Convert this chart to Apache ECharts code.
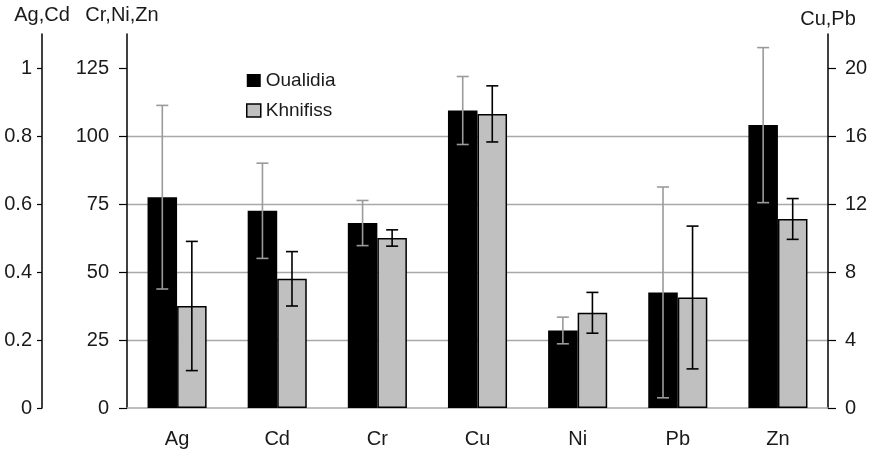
<!DOCTYPE html>
<html><head><meta charset="utf-8">
<script src="https://cdn.jsdelivr.net/npm/echarts@6/dist/echarts.min.js"></script>
<style>html,body{margin:0;padding:0;background:#fff}#c{width:874px;height:450px}</style>
</head><body><div id="c"></div>
<script>
// ---- data ----
const categories = ['Ag', 'Cd', 'Cr', 'Cu', 'Ni', 'Pb', 'Zn'];
// which y axis each category is read on: 0 = Ag,Cd ; 1 = Cr,Ni,Zn ; 2 = Cu,Pb
const axisGroup = [0, 0, 1, 2, 1, 2, 1];
const oualidiaMean = [0.62, 0.58, 68, 17.5, 28.5, 6.8, 104];
const oualidiaSD   = [0.27, 0.14, 8.3, 2.0, 4.9, 6.2, 28.5];
const khnifissMean = [0.30, 0.38, 62.5, 17.3, 35, 6.5, 69.5];
const khnifissSD   = [0.19, 0.08, 3, 1.65, 7.5, 4.2, 7.5];
const axisNames = ['Ag,Cd', 'Cr,Ni,Zn', 'Cu,Pb'];
const axisMax = [1.1, 137.5, 22];
const ticksAgCd = [0, 0.2, 0.4, 0.6, 0.8, 1];
const ticksCrNiZn = [0, 25, 50, 75, 100, 125];
const ticksCuPb = [0, 4, 8, 12, 16, 20];
const seriesNames = ['Oualidia', 'Khnifiss'];

// ---- styling ----
const FONT = 'Liberation Sans';
const TXT = '#1a1a1a';
const BAR_FRAC = 0.295;
const GRAY_BAR = '#c0c0c0';
const GRID_GRAY = '#a8a8a8';

function meansOn(arr, g) { return arr.map((v, i) => axisGroup[i] === g ? v : null); }
function errOn(mean, sd, g) {
  const out = [];
  mean.forEach((v, i) => { if (axisGroup[i] === g) out.push([i, v - sd[i], v + sd[i]]); });
  return out;
}
function errRender(side, color) {
  return function (params, api) {
    const x = api.value(0);
    const lo = api.coord([x, api.value(1)]);
    const hi = api.coord([x, api.value(2)]);
    const band = api.size([1, 0])[0];
    const cx = lo[0] + side * band * BAR_FRAC / 2;
    const cap = 6;
    const style = { stroke: color, lineWidth: 1.6 };
    return { type: 'group', children: [
      { type: 'line', shape: { x1: cx, y1: hi[1], x2: cx, y2: lo[1] }, style: style },
      { type: 'line', shape: { x1: cx - cap, y1: hi[1], x2: cx + cap, y2: hi[1] }, style: style },
      { type: 'line', shape: { x1: cx - cap, y1: lo[1], x2: cx + cap, y2: lo[1] }, style: style }
    ]};
  };
}

const tickSets = [ticksAgCd, ticksCrNiZn, ticksCuPb];
const yAxes = [0, 1, 2].map(g => ({
  type: 'value',
  position: g === 2 ? 'right' : 'left',
  offset: g === 0 ? 85 : 0,
  min: 0, max: axisMax[g],
  name: axisNames[g],
  nameLocation: 'end',
  nameGap: g === 2 ? 5 : 9,
  nameTextStyle: { fontFamily: FONT, fontSize: 20, color: TXT, padding: g === 1 ? [0, 0, 0, -10] : [0, 0, 0, 0] },
  axisLine: { show: true, lineStyle: { color: '#000', width: 1.5 } },
  axisTick: { show: true, length: g === 0 ? 5 : 8, customValues: tickSets[g], lineStyle: { color: '#000', width: 1.2 } },
  axisLabel: { customValues: tickSets[g], fontFamily: FONT, fontSize: 20, color: TXT, margin: g === 0 ? 10 : (g === 1 ? 18 : 17) },
  splitLine: g === 1 ? { show: true, showMinLine: false, showMaxLine: false, lineStyle: { color: GRID_GRAY, width: 1.3 } } : { show: false }
}));
yAxes[1].interval = 25;

const series = [];
[0, 1, 2].forEach(g => {
  series.push({
    name: seriesNames[0], type: 'bar', yAxisIndex: g, stack: 'O',
    barWidth: (BAR_FRAC * 100) + '%', barGap: '0%',
    itemStyle: { color: '#000' },
    data: meansOn(oualidiaMean, g)
  });
  series.push({
    name: seriesNames[1], type: 'bar', yAxisIndex: g, stack: 'K',
    barWidth: (BAR_FRAC * 100) + '%', barGap: '0%',
    itemStyle: { color: GRAY_BAR, borderColor: '#000', borderWidth: 1.5 },
    data: meansOn(khnifissMean, g)
  });
});
[0, 1, 2].forEach(g => {
  series.push({
    name: 'errO' + g, type: 'custom', yAxisIndex: g, z: 5,
    renderItem: errRender(-1, '#9a9a9a'), data: errOn(oualidiaMean, oualidiaSD, g)
  });
  series.push({
    name: 'errK' + g, type: 'custom', yAxisIndex: g, z: 5,
    renderItem: errRender(1, '#000'), data: errOn(khnifissMean, khnifissSD, g)
  });
});

const chart = echarts.init(document.getElementById('c'), null, { renderer: 'canvas' });
chart.setOption({
  animation: false,
  backgroundColor: '#fff',
  grid: { left: 127, right: 46, top: 34, bottom: 42 },
  legend: {
    orient: 'vertical', left: 238, top: 60,
    padding: [11, 10, 8, 8], itemGap: 11,
    backgroundColor: '#fff',
    itemWidth: 14, itemHeight: 13, icon: 'rect',
    textStyle: { fontFamily: FONT, fontSize: 19, color: TXT },
    data: [
      { name: seriesNames[0], itemStyle: { color: '#000' } },
      { name: seriesNames[1], itemStyle: { color: GRAY_BAR, borderColor: '#000', borderWidth: 1.5 } }
    ]
  },
  xAxis: {
    type: 'category', data: categories,
    axisLine: { lineStyle: { color: GRID_GRAY, width: 1.5 } },
    axisTick: { show: false },
    axisLabel: { fontFamily: FONT, fontSize: 20, color: TXT, margin: 21 }
  },
  yAxis: yAxes,
  series: series
});
</script></body></html>
